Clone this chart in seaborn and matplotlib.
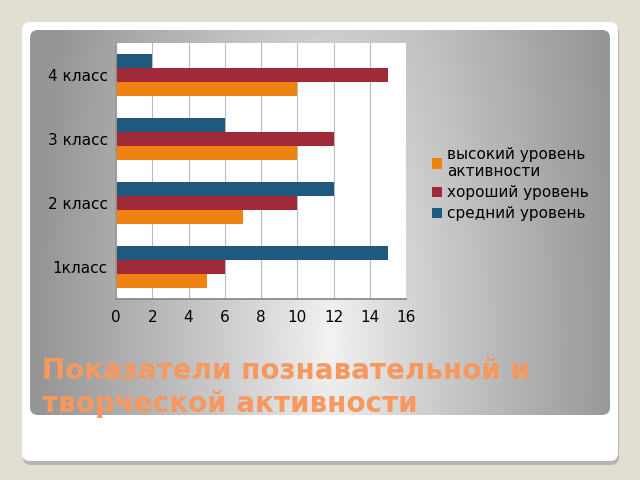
import numpy as np
import pandas as pd
import matplotlib
matplotlib.use("Agg")
import matplotlib.pyplot as plt
from matplotlib.patches import FancyBboxPatch, Patch
import seaborn as sns

categories = ["4 класс", "3 класс", "2 класс", "1класс"]
series_names = ["высокий уровень\nактивности", "хороший уровень", "средний уровень"]
high_level = [10, 10, 7, 5]
good_level = [15, 12, 10, 6]
mid_level = [2, 6, 12, 15]
x_ticks = [0, 2, 4, 6, 8, 10, 12, 14, 16]
title = "Показатели познавательной и\nтворческой активности"

colors = {series_names[0]: "#F0820F", series_names[1]: "#A12A3A", series_names[2]: "#1F5A7E"}

rows = []
for i, c in enumerate(categories):
    rows.append((c, series_names[0], high_level[i]))
    rows.append((c, series_names[1], good_level[i]))
    rows.append((c, series_names[2], mid_level[i]))
df = pd.DataFrame(rows, columns=["cat", "series", "value"])

sns.set_theme(style="white")
plt.rcParams["font.family"] = ["DejaVu Sans"]

W, H = 640, 480
fig = plt.figure(figsize=(6.4, 4.8), dpi=100)
fig.patch.set_facecolor("#E3DED4")

bg = fig.add_axes([0, 0, 1, 1])
bg.set_xlim(0, W)
bg.set_ylim(H, 0)
bg.axis("off")

# shadow + white card
shadow = FancyBboxPatch((23, 25), 596, 440, boxstyle="round,pad=0,rounding_size=8",
                        fc="#B8B4AE", ec="none", zorder=0)
bg.add_patch(shadow)
card = FancyBboxPatch((22, 22), 596, 439, boxstyle="round,pad=0,rounding_size=8",
                      fc="white", ec="none", zorder=1)
bg.add_patch(card)

# gradient panel
px0, px1, py0, py1 = 30, 610, 30, 415
xs = np.linspace(px0, px1, 400)
ys = np.linspace(py0, py1, 300)
X, Y = np.meshgrid(xs, ys)
cx = 330
dx = np.abs(X - cx) / 290.0
dy = (Y - 340) / 330.0
r = np.sqrt(dx ** 2 + (dy * 0.4) ** 2)
val = 0.96 - 0.37 * np.clip(r, 0, 1) ** 0.85
img = np.dstack([val, val, val])
panel = FancyBboxPatch((px0, py0), px1 - px0, py1 - py0, boxstyle="round,pad=0,rounding_size=8",
                       fc="none", ec="none", zorder=2)
bg.add_patch(panel)
im = bg.imshow(img, extent=[px0, px1, py1, py0], aspect="auto", zorder=2, interpolation="bilinear")
im.set_clip_path(panel)

# main chart
ax = fig.add_axes([116 / W, 1 - 299 / H, 290 / W, 256 / H])
ax.set_facecolor("white")
sns.barplot(data=df, y="cat", x="value", hue="series", order=categories,
            hue_order=[series_names[2], series_names[1], series_names[0]],
            palette=colors, orient="h", width=0.66, dodge=True, gap=0,
            saturation=1, ax=ax, legend=False, edgecolor="none", linewidth=0)
ax.set_xlim(0, 16)
ax.set_xticks(x_ticks)
ax.set_xticklabels([str(t) for t in x_ticks], fontsize=11, color="black")
ax.tick_params(axis="y", labelsize=11, labelcolor="black", length=0, pad=6)
ax.tick_params(axis="x", length=4, width=0.8, color="#888888", direction="out", pad=4)
ax.set_xlabel("")
ax.set_ylabel("")
ax.grid(axis="x", color="#BBBBBB", linewidth=0.8)
ax.set_axisbelow(True)
for s in ["top", "right"]:
    ax.spines[s].set_visible(False)
ax.spines["left"].set_color("#999999")
ax.spines["bottom"].set_color("#888888")

handles = [Patch(facecolor=colors[n], edgecolor="none") for n in series_names]
fig.legend(handles, series_names, loc="upper left", bbox_to_anchor=(424 / W, 1 - 139 / H),
           frameon=False, fontsize=11, labelcolor="black", handlelength=0.65, handleheight=0.65,
           handletextpad=0.35, labelspacing=0.4, borderpad=0)

fig.text(42 / W, 1 - 357 / H, title, fontsize=20, fontweight="bold", color="#F7985E",
         ha="left", va="top", linespacing=1.22)

fig.savefig("out.png", dpi=100, facecolor=fig.get_facecolor())
